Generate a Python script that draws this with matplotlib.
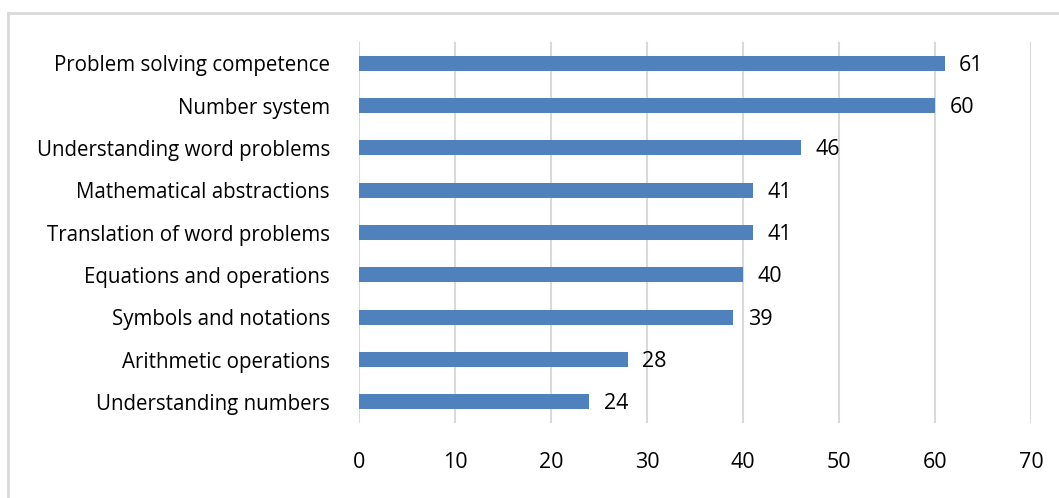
import matplotlib
matplotlib.use("Agg")
import matplotlib.pyplot as plt
from matplotlib.lines import Line2D

plt.rcParams['font.family'] = ['Open Sans', 'DejaVu Sans']

categories = ['Problem solving competence', 'Number system', 'Understanding word problems',
              'Mathematical abstractions', 'Translation of word problems', 'Equations and operations',
              'Symbols and notations', 'Arithmetic operations', 'Understanding numbers']
values = [61, 60, 46, 41, 41, 40, 39, 28, 24]
xticks = [0, 10, 20, 30, 40, 50, 60, 70]

W, H = 1059, 498
fig = plt.figure(figsize=(W / 100, H / 100), dpi=100)
# plot area in pixels: x 359..1031, y 42..423
ax = fig.add_axes([359 / W, 1 - 423 / H, (1031 - 359) / W, (423 - 42) / H])

pos = list(range(len(categories)))[::-1]
ax.barh(pos, values, height=0.36, color='#4F81BD', zorder=3)
for p, v in zip(pos, values):
    ax.text(v + 1.5, p - 0.05, str(v), va='center', ha='left', fontsize=15.5, color='black')

ax.set_xlim(0, 70)
ax.set_ylim(-0.5, len(categories) - 0.5)
ax.set_xticks(xticks)
ax.set_yticks(pos)
ax.set_yticklabels(categories, fontsize=14.8)
ax.tick_params(axis='x', labelsize=15.5, length=0, pad=21)
ax.tick_params(axis='y', length=0, pad=21)
ax.grid(axis='x', color='#D9D9D9', linewidth=1.5, zorder=0)
for s in ax.spines.values():
    s.set_visible(False)

# outer chart border (top and left visible)
fig.add_artist(Line2D([8 / W, 8 / W], [0, 1 - 13 / H], transform=fig.transFigure,
                      color='#D9D9D9', linewidth=2))
fig.add_artist(Line2D([8 / W, 1], [1 - 13 / H, 1 - 13 / H], transform=fig.transFigure,
                      color='#D9D9D9', linewidth=2))

fig.savefig('out.png', dpi=100)
